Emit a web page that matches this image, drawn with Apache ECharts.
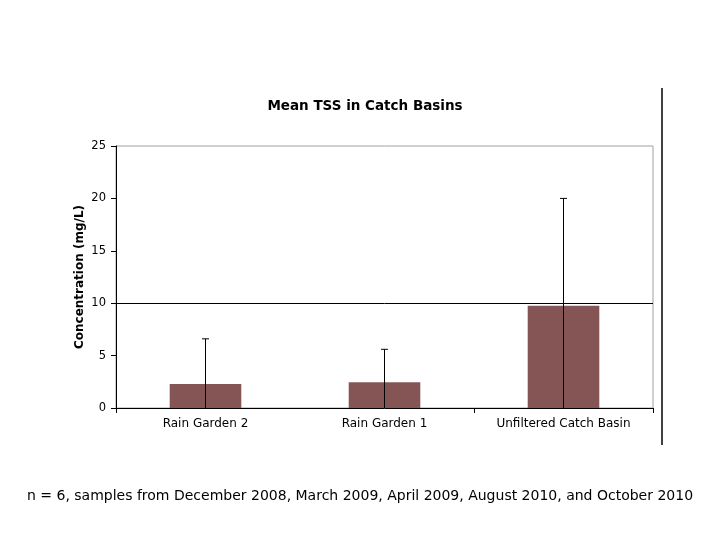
<!DOCTYPE html>
<html>
<head>
<meta charset="utf-8">
<script src="https://cdn.jsdelivr.net/npm/echarts@6/dist/echarts.min.js"></script>
<style>html,body{margin:0;padding:0;background:#fff}#c{width:720px;height:540px}</style>
</head>
<body>
<div id="c"></div>
<script>
const categories = ['Rain Garden 2', 'Rain Garden 1', 'Unfiltered Catch Basin'];
const meanTSS = [2.3, 2.45, 9.75];
const errorTop = [6.6, 5.6, 20.0];
const yTicks = [0, 5, 10, 15, 20, 25];
const referenceLevel = 10;
const footnote = 'n = 6, samples from December 2008, March 2009, April 2009, August 2010, and October 2010';

const FONT = 'DejaVu Sans, Verdana, sans-serif';
const chart = echarts.init(document.getElementById('c'), null, {renderer: 'canvas'});
chart.setOption({
  animation: false,
  backgroundColor: '#fff',
  title: {
    text: 'Mean TSS in Catch Basins',
    left: 360, top: 94, textAlign: 'center',
    textStyle: {fontFamily: FONT, fontSize: 13.5, fontWeight: 'bold', color: '#000'}
  },
  grid: {left: 116, right: 67, top: 146, bottom: 132, show: true, borderColor: '#a0a0a0', borderWidth: 1},
  xAxis: {
    type: 'category', data: categories,
    axisLine: {lineStyle: {color: '#000', width: 1}},
    axisTick: {show: true, length: 5, lineStyle: {color: '#000'}, interval: function (i) { return i === 0 || i === 2; }},
    axisLabel: {fontFamily: FONT, fontSize: 12, color: '#000', margin: 10}
  },
  yAxis: {
    type: 'value', min: yTicks[0], max: yTicks[yTicks.length - 1], interval: 5,
    name: 'Concentration (mg/L)', nameLocation: 'middle', nameGap: 30, nameRotate: 90,
    nameMoveOverlap: false,
    nameTextStyle: {fontFamily: FONT, fontSize: 12, fontWeight: 'bold', color: '#000'},
    axisLine: {show: true, lineStyle: {color: '#000', width: 1}},
    axisTick: {show: true, length: 5, inside: false, lineStyle: {color: '#000'}},
    axisLabel: {fontFamily: FONT, fontSize: 11.5, color: '#000', margin: 10},
    splitLine: {show: false}
  },
  series: [
    {
      type: 'bar', data: meanTSS, barWidth: '40%',
      itemStyle: {color: '#855556'},
      markLine: {
        silent: true, symbol: 'none', label: {show: false},
        lineStyle: {color: '#000', type: 'solid', width: 1},
        data: [{yAxis: referenceLevel}]
      }
    },
    {
      type: 'custom',
      data: categories.map((c, i) => [i, 0, errorTop[i]]),
      renderItem: function (params, api) {
        const base = api.coord([api.value(0), api.value(1)]);
        const top = api.coord([api.value(0), api.value(2)]);
        const cap = 3.5;
        return {
          type: 'group',
          children: [
            {type: 'line', shape: {x1: base[0], y1: base[1], x2: top[0], y2: top[1]}, style: {stroke: '#000', lineWidth: 1}},
            {type: 'line', shape: {x1: top[0] - cap, y1: top[1], x2: top[0] + cap, y2: top[1]}, style: {stroke: '#000', lineWidth: 1}}
          ]
        };
      },
      z: 5
    }
  ],
  graphic: [
    {type: 'line', shape: {x1: 662, y1: 88, x2: 662, y2: 445}, style: {stroke: '#000', lineWidth: 1.5}},
    {type: 'text', left: 'center', top: 489, style: {text: footnote, fontFamily: FONT, fontSize: 14, fill: '#000'}}
  ]
});
</script>
</body>
</html>
